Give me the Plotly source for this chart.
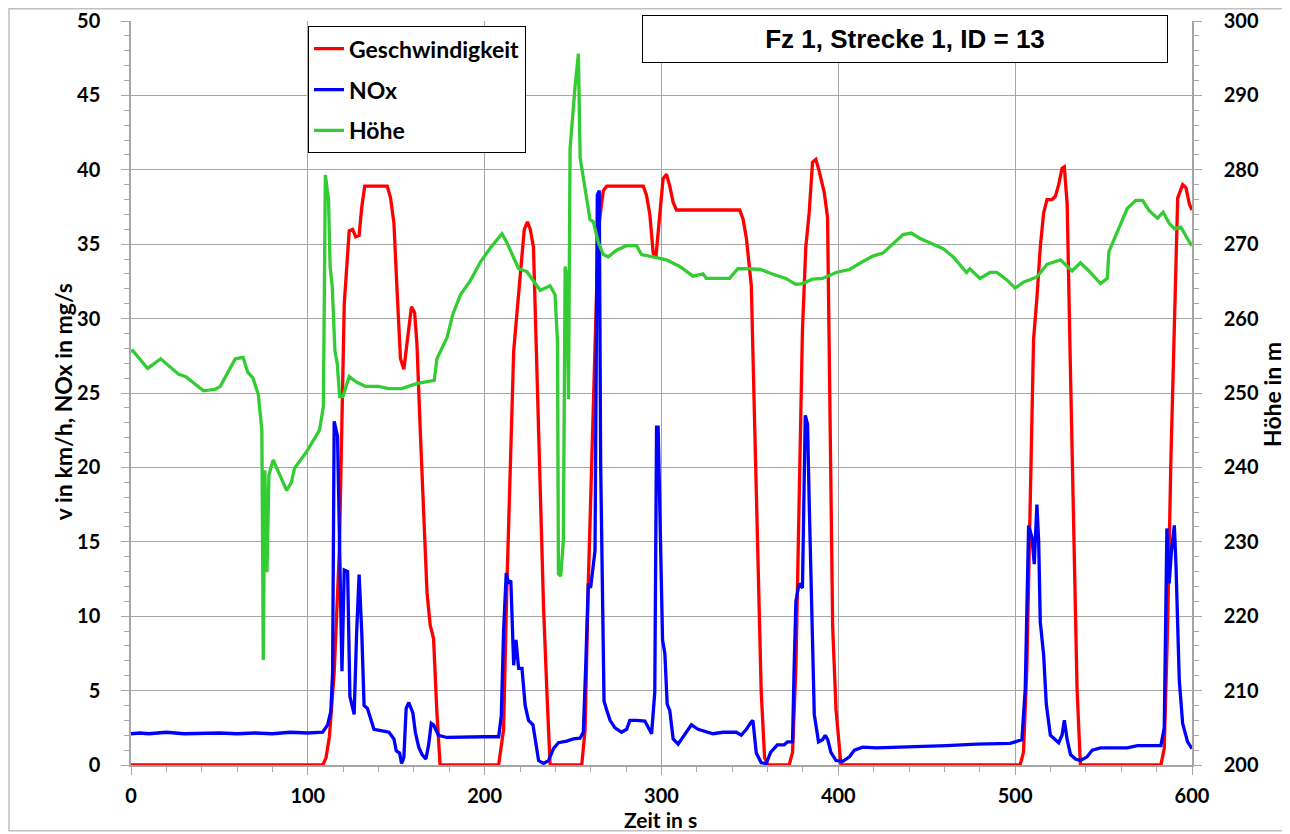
import plotly.graph_objects as go

# Geschwindigkeit (km/h) over time (s)
speed_t = [0, 108.5, 110.3, 112.2, 114.9, 117.8, 120.6, 123.4, 125.3, 127.1, 129, 130.5, 132.2, 144.9,
           146.8, 148.7, 150.5, 152.4, 154.3, 156.1, 158.6, 160.4, 161.7, 163.6, 165.5, 167.4, 169.2,
           171.1, 173, 174.8, 207.9, 210.7, 212.6, 214.5, 216.4, 218.2, 220.1, 222.4, 224.2, 225.8,
           227.6, 229.5, 231.4, 233.3, 235.2, 237, 254.9, 256.8, 258.6, 260.5, 262.4, 264.3, 267.1,
           269, 289.7, 291.5, 293.4, 295.3, 296.8, 298.7, 300.9, 302.8, 304.7, 306.6, 308.5, 344.2,
           346.1, 348, 350.8, 352.6, 354.5, 356.4, 358.3, 360.2, 372.2, 374.1, 376, 377.8, 379.7,
           381.6, 383.5, 385.4, 387.3, 389.2, 392, 393.9, 394.9, 395.8, 396.8, 398.7, 401.5, 502.8,
           504.7, 506.6, 508.5, 510.4, 512.3, 514.2, 516.1, 518, 520.8, 522.7, 524.6, 526.5, 527.8,
           529.4, 531.3, 533.1, 535, 536.9, 582.4, 584.3, 586.2, 588.1, 590, 591.9, 594.7, 596.6,
           598.5, 600]
speed_v = [0, 0, 0.5, 1.9, 6.2, 14.3, 31, 35.9, 36.0, 35.5, 35.6, 37.5, 38.9, 38.9,
           38.1, 36.4, 31.8, 27.3, 26.6, 28.3, 30.8, 30.4, 28.3, 22.4, 17, 11.6, 9.4,
           8.5, 3.5, 0, 0, 2.4, 12.2, 20.2, 27.8, 30.3, 33.2, 36, 36.5, 36,
           34.8, 27.1, 18.6, 10.6, 4.9, 0, 0, 2.4, 12.2, 20.2, 29.7, 36, 38.6,
           38.9, 38.9, 38.3, 37, 34.4, 34.1, 36.7, 39.4, 39.7, 38.9, 37.8, 37.3, 37.3,
           36.7, 35.4, 32.2, 23.3, 13.8, 4.9, 0.5, 0, 0, 0.85, 6.5, 17.8, 29.2,
           34.8, 37.1, 40.5, 40.7, 39.9, 38.5, 36.8, 26.3, 20.7, 9.3, 3.7, 0, 0,
           0.85, 6.5, 17.8, 28.6, 31.4, 34.8, 37.1, 38, 38, 38.2, 39, 40.1, 40.2,
           37.7, 26.3, 15, 5.1, 0, 0, 1.1, 9.3, 20.7, 29.2, 38.1, 39, 38.8,
           37.7, 37.3]

# NOx (mg/s) over time (s)
nox_t = [0, 5, 10, 20, 30, 40, 50, 60, 70, 80, 90, 100, 108.4, 111.2, 113, 114, 114.9, 116.8, 117.8,
         119.3, 120.6, 122.5, 123.8, 126.2, 127.6, 129, 130.5, 131.8, 133.7, 135.6, 137.4, 142.1,
         145.9, 148.7, 150, 151.9, 153, 154.3, 155.6, 157.1, 159.4, 160.8, 162.7, 164.6, 166.8,
         168.3, 169.8, 171.1, 173.9, 178.6, 190.8, 200, 207.9, 209.4, 210.7, 212.2, 213.5, 214.8,
         216.4, 217.7, 219.2, 221.1, 222.9, 224.8, 227.3, 228.6, 230.5, 233.3, 236.1, 238.9, 241.7,
         246.4, 250.2, 253.9, 255.8, 257.1, 258.6, 259.9, 261.1, 262.4, 263.7, 264.8, 265.6, 266.5,
         267.5, 269, 270.9, 273.7, 277.4, 280.3, 282.1, 285.9, 290.6, 294.4, 296.2, 297.2, 298.1,
         299.1, 300.6, 301.9, 303.2, 304.7, 306.6, 309.4, 313.2, 316.9, 320.7, 325.4, 329.1, 334.8,
         342.3, 345.1, 348, 350.8, 351.7, 353.6, 356.4, 359.2, 361.7, 365.5, 369.3, 371.2, 374.1,
         375, 376, 377.8, 379.7, 381.3, 382.6, 383.5, 385, 386.4, 388.8, 391.1, 392.6, 394, 395.8,
         398.7, 402.5, 406.3, 409.1, 413.8, 421.4, 440.3, 461.2, 478.2, 497.2, 503.8, 505.7, 507.6,
         509.5, 510.8, 512.3, 513.3, 514.2, 516.1, 517.6, 519.9, 522.7, 524.6, 526.5, 527.8, 529.4,
         531.3, 534.1, 536.9, 540.7, 543.6, 548.3, 563.4, 569.1, 582.4, 584.3, 585.8, 587.1, 588.4,
         590, 590.9, 592.8, 594.7, 597.5, 600]
nox_v = [2.1, 2.15, 2.1, 2.2, 2.1, 2.15, 2.15, 2.1, 2.15, 2.1, 2.2, 2.15, 2.2, 2.7, 3.6, 6.2, 23.1, 22.1, 15.7,
         6.3, 13.1, 13, 4.6, 3.4, 8.9, 12.8, 8.9, 4, 3.8, 3.0, 2.4, 2.3,
         2.2, 1.75, 0.95, 0.8, 0.1, 0.5, 3.8, 4.2, 3.5, 2.2, 1.2, 0.7, 0.4,
         1.35, 2.8, 2.7, 2.0, 1.85, 1.9, 1.9, 1.9, 3.3, 9, 12.9, 12.2, 12.4,
         6.7, 8.4, 6.5, 6.5, 4, 3, 2.7, 1.6, 0.3, 0.1, 0.3, 1.1, 1.5,
         1.6, 1.75, 1.8, 2.2, 6.5, 12.2, 11.9, 13.2, 14.4, 38.3, 38.6, 20.2, 10.6,
         4.3, 3.7, 3, 2.5, 2.2, 2.4, 3, 3, 2.95, 2.1, 4.9, 22.7, 22.7,
         17, 8.4, 7.5, 4.1, 3.65, 1.75, 1.4, 2.1, 2.7, 2.4, 2.2, 2.1, 2.2,
         2.2, 2.0, 2.4, 2.9, 3, 0.8, 0.15, 0.1, 0.85, 1.35, 1.35, 1.55, 1.55,
         6.5, 11, 12.2, 11.9, 23.5, 22.9, 17.8, 10.8, 3.4, 1.55, 1.7, 2.0, 1.7, 0.85,
         0.3, 0.25, 0.55, 1.0, 1.2, 1.15, 1.2, 1.3, 1.4, 1.45, 1.7, 5.1, 16.1,
         15.3, 13.5, 17.5, 15, 9.6, 7.4, 4.1, 2, 1.7, 1.5, 2.0, 3, 1.7,
         0.7, 0.4, 0.3, 0.55, 1.0, 1.15, 1.15, 1.3, 1.3, 2.5, 15.9, 12.2, 14.4,
         16.1, 13.6, 5.7, 2.8, 1.55, 1.1]

# Höhe (m) over time (s)
hoehe_t = [0, 1, 9.4, 16.8, 27, 31, 41, 47.7, 50.5, 56, 59, 63.4, 66, 69, 72, 74, 74.8, 75.7, 76.9, 78,
           80.4, 83, 88, 90.7, 92.5, 99, 106.6, 108.8, 109.9, 111.7, 112.6, 113.8, 115.3, 116.6, 118,
           119.8, 123.4, 125, 128, 132.5, 140, 145.6, 153, 162, 171.5, 173, 176, 178.8, 182, 186.3,
           191.9, 197.6, 203.2, 209.8, 212.6, 216.4, 219.2, 223.9, 231.4, 237, 239.8, 241.2, 241.7,
           243, 244.5, 245.5, 246.4, 247.4, 248.3, 251.1, 253, 254, 255.8, 257.7, 259.6, 261.5,
           264.3, 267.1, 269.9, 274.6, 280.2, 285.9, 288.7, 295.3, 302.8, 310.3, 317.8, 323.5, 325.4,
           338.5, 343.2, 349.8, 356, 362.7, 370.3, 375.9, 379.7, 385.4, 391.1, 398.7, 406.3, 411.9,
           419.5, 425.2, 430.9, 436.6, 441.3, 446, 453.6, 459.3, 465, 469.7, 472.5, 474.4, 480.1,
           485.8, 489.6, 495.3, 500, 504.7, 512.3, 518, 525.6, 532.2, 536.9, 541.7, 548.3, 552.1,
           553, 557.8, 563.4, 568.2, 572, 575.8, 580.5, 583.7, 587.1, 590, 593.7, 598.5, 600]
hoehe_v = [255.5, 255.7, 253.3, 254.6, 252.5, 252.2, 250.3, 250.5, 250.9, 253.3, 254.6, 254.8, 252.8, 252, 249.8, 245, 214.1, 239.6, 225.9, 239,
           241, 239.6, 236.9, 238, 239.9, 242, 245, 248.2, 279.3, 276, 267, 264.3, 255.7, 254, 249.5,
           249.5, 252.2, 251.9, 251.4, 250.9, 250.9, 250.6, 250.6, 251.3, 251.7, 254.6, 256.2, 257.5, 260.6, 263.2,
           265.1, 267.6, 269.5, 271.4, 270.2, 268.3, 266.7, 266.3, 263.8, 264.4, 263.2, 256.8, 225.7,
           225.4, 230.2, 267, 265.7, 249.2, 282.9, 291.1, 295.6, 281.6, 279, 275.9, 273.3, 273,
           270.2, 268.6, 268.3, 269.2, 269.8, 269.8, 268.6, 268.3, 267.9, 267, 265.7, 266, 265.4,
           265.4, 266.7, 266.7, 266.6, 266, 265.4, 264.6, 264.7, 265.3, 265.4, 266.2, 266.6, 267.4,
           268.4, 268.8, 270, 271.3, 271.5, 270.8, 270, 269.4, 268.3, 266.9, 266.2, 266.7, 265.4,
           266.2, 266.2, 265.2, 264.1, 264.9, 265.6, 267.3, 267.9, 266.4, 267.5, 266.4, 264.7, 265.4,
           269, 271.7, 274.8, 275.9, 275.9, 274.5, 273.5, 274.3, 272.8, 272.1, 272.3, 270.3, 269.8]

FONT = "Lato"
GRID = "#A6A6A6"

fig = go.Figure()
fig.add_trace(go.Scatter(
    x=speed_t, y=speed_v, mode="lines", name="Geschwindigkeit",
    line=dict(color="#FF0000", width=3.3), legendgroup="a",
))
fig.add_trace(go.Scatter(
    x=nox_t, y=nox_v, mode="lines", name="NOx",
    line=dict(color="#0000FF", width=3.3), legendgroup="b",
))
fig.add_trace(go.Scatter(
    x=hoehe_t, y=hoehe_v, mode="lines", name="Höhe", yaxis="y2",
    line=dict(color="#33CC33", width=3.3), legendgroup="c",
))

tickfont = dict(family=FONT, size=20, color="black", weight="bold")
titlefont = dict(family=FONT, size=23, color="black", weight="bold")

axis_common = dict(
    showline=True, linecolor=GRID, linewidth=1.5,
    ticks="outside", ticklen=8, tickcolor=GRID,
    tickfont=tickfont, zeroline=False, automargin=False,
)

# page body has an 8px margin, so the figure is a bit smaller than the window
fig.update_layout(
    width=1282, height=826,
    paper_bgcolor="white", plot_bgcolor="white",
    margin=dict(l=123, r=98, t=13, b=69, autoexpand=False),
    showlegend=True,
    legend=dict(
        x=0.1668, y=0.993, xanchor="left", yanchor="top",
        bordercolor="black", borderwidth=1, bgcolor="white",
        font=dict(family=FONT, size=23, color="black", weight="bold"),
        tracegroupgap=8, traceorder="grouped",
    ),
    xaxis=dict(
        range=[0, 600], dtick=100, tick0=0,
        showgrid=True, gridcolor=GRID, gridwidth=1.3,
        minor=dict(dtick=20, ticks="outside", ticklen=5, tickcolor=GRID, showgrid=False),
        ticklabelstandoff=4,
        **axis_common,
    ),
    yaxis=dict(
        range=[0, 50], dtick=5, tick0=0,
        showgrid=True, gridcolor=GRID, gridwidth=1.3,
        minor=dict(dtick=1, ticks="outside", ticklen=5, tickcolor=GRID, showgrid=False),
        ticklabelstandoff=17,
        **axis_common,
    ),
    yaxis2=dict(
        range=[200, 300], dtick=10, tick0=200,
        overlaying="y", side="right", showgrid=False,
        minor=dict(dtick=2, ticks="outside", ticklen=5, tickcolor=GRID),
        ticklabelstandoff=18,
        **axis_common,
    ),
)

# axis titles
fig.add_annotation(x=-0.0641, y=0.489, xref="paper", yref="paper", text="v in km/h, NOx in mg/s",
                   textangle=-90, showarrow=False, font=titlefont, xanchor="center", yanchor="middle")
fig.add_annotation(x=1.0754, y=0.4987, xref="paper", yref="paper", text="Höhe in m",
                   textangle=-90, showarrow=False, font=titlefont, xanchor="center", yanchor="middle")
fig.add_annotation(x=0.4995, y=-0.0726, xref="paper", yref="paper", text="Zeit in s",
                   showarrow=False, font=dict(family=FONT, size=21, color="black", weight="bold"),
                   xanchor="center", yanchor="middle")

# title box
fig.add_annotation(
    x=0.7295, y=0.9758, xref="paper", yref="paper",
    text="Fz 1, Strecke 1, ID = 13", showarrow=False,
    font=dict(family="Liberation Sans", size=26, color="black", weight="bold"),
    bordercolor="black", borderwidth=1, bgcolor="white",
    width=522, height=44, xanchor="center", yanchor="middle",
)

# outer chart frame
fig.add_shape(
    type="rect", xref="paper", yref="paper",
    x0=-0.1150, x1=1.0895, y0=-0.0885, y1=1.0165,
    line=dict(color="#C0C0C0", width=1.5), layer="below",
)

fig.write_html("out.html")
